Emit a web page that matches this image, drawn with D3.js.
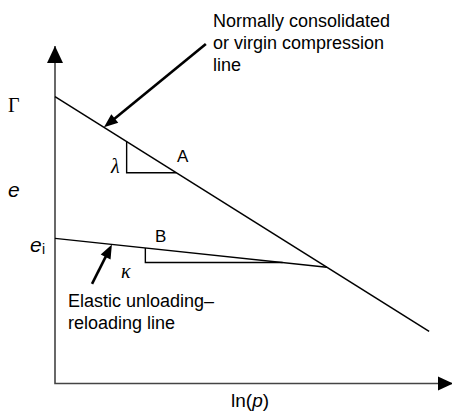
<!DOCTYPE html>
<html>
<head>
<meta charset="utf-8">
<script src="https://cdn.jsdelivr.net/npm/d3@7"></script>
<style>
  html, body { margin: 0; padding: 0; background: #fff; }
  svg { display: block; }
  .sans { font-family: "Liberation Sans", Arial, Helvetica, sans-serif; }
  .serif { font-family: "Liberation Serif", "Times New Roman", serif; }
</style>
</head>
<body>
<svg id="chart" width="452" height="413"></svg>
<script>
// Schematic e – ln(p) diagram (critical state soil mechanics), abstract units.
const xDomain = [0, 10];          // ln(p)
const yDomain = [0, 10];          // e

// Normally consolidated (virgin compression) line: e = Gamma - lambda * ln(p)
const nclParams = { Gamma: 8.5, lambda: 0.74, xEnd: 9.4 };
// Elastic unloading–reloading line: e = ei - kappa * ln(p)
const urlParams = { ei: 4.3, kappa: 0.125 };

// Slope triangles: [x at vertical leg, x at far corner]
const lambdaTriangle = [1.8, 3.05];
const kappaTriangleX = 2.27;
const kappaTriangleBottom = 3.585;

// Annotation arrows: [tail x, tail y] -> tip on the line at x
const nclArrow = { tail: [3.79, 10.06], tipX: 1.23 };
const urlArrow = { tail: [0.93, 2.95], tipX: 1.43 };

const nclLabel = ["Normally consolidated", "or virgin compression", "line"];
const urlLabel = ["Elastic unloading\u2013", "reloading line"];

const svg = d3.select("#chart");
const x = d3.scaleLinear().domain(xDomain).range([55, 453]);
const y = d3.scaleLinear().domain(yDomain).range([383.5, 46]);

const ncl = v => nclParams.Gamma - nclParams.lambda * v;
const url = v => urlParams.ei - urlParams.kappa * v;
const xCross = (nclParams.Gamma - urlParams.ei) / (nclParams.lambda - urlParams.kappa);

const line = d3.line().x(d => x(d[0])).y(d => y(d[1]));

// Axes with arrowheads
const axisColor = "#444";
svg.append("path")
  .attr("d", line([[xDomain[0], yDomain[1]], [xDomain[0], yDomain[0]], [xDomain[1], yDomain[0]]]))
  .attr("fill", "none").attr("stroke", axisColor).attr("stroke-width", 1.6);

function arrowHead(tip, angle, len, half, color) {
  const [tx, ty] = tip;
  const bx = tx - len * Math.cos(angle), by = ty - len * Math.sin(angle);
  const nx = -Math.sin(angle), ny = Math.cos(angle);
  svg.append("path")
    .attr("d", `M${tx},${ty}L${bx + nx * half},${by + ny * half}L${bx - nx * half},${by - ny * half}Z`)
    .attr("fill", color);
}
arrowHead([x(xDomain[0]), y(yDomain[1])], -Math.PI / 2, 17, 8, "#000");
arrowHead([x(xDomain[1]), y(yDomain[0])], 0, 15, 7, "#000");

// Compression lines
svg.append("path")
  .attr("d", line([[0, ncl(0)], [nclParams.xEnd, ncl(nclParams.xEnd)]]))
  .attr("fill", "none").attr("stroke", "#000").attr("stroke-width", 1.5);
svg.append("path")
  .attr("d", line([[0, url(0)], [xCross, url(xCross)]]))
  .attr("fill", "none").attr("stroke", "#000").attr("stroke-width", 1.5);

// Slope triangles
const [l0, l1] = lambdaTriangle;
svg.append("path")
  .attr("d", line([[l0, ncl(l0)], [l0, ncl(l1)], [l1, ncl(l1)]]))
  .attr("fill", "none").attr("stroke", "#000").attr("stroke-width", 1.4);
const kEnd = (urlParams.ei - kappaTriangleBottom) / urlParams.kappa;
svg.append("path")
  .attr("d", line([[kappaTriangleX, url(kappaTriangleX)], [kappaTriangleX, kappaTriangleBottom], [kEnd, kappaTriangleBottom]]))
  .attr("fill", "none").attr("stroke", "#000").attr("stroke-width", 1.4);

// Annotation arrows
function annotArrow(a, f) {
  const tx = x(a.tipX), ty = y(f(a.tipX));
  const sx = x(a.tail[0]), sy = y(a.tail[1]);
  const ang = Math.atan2(ty - sy, tx - sx);
  const len = 14;
  svg.append("line")
    .attr("x1", sx).attr("y1", sy)
    .attr("x2", tx - (len - 2) * Math.cos(ang)).attr("y2", ty - (len - 2) * Math.sin(ang))
    .attr("stroke", "#000").attr("stroke-width", 2.6);
  arrowHead([tx, ty], ang, len, 5.5, "#000");
}
annotArrow(nclArrow, ncl);
annotArrow(urlArrow, url);

// Text
const t = (cls, px, py, size, txt, style) => {
  const el = svg.append("text").attr("class", cls)
    .attr("x", px).attr("y", py).attr("font-size", size).attr("fill", "#000").text(txt);
  if (style) el.attr("font-style", style);
  return el;
};

nclLabel.forEach((s, i) => t("sans", 213, 27 + i * 22, 18, s));
urlLabel.forEach((s, i) => t("sans", 68, 307 + i * 22, 18, s));

t("serif", 8, 112, 20, "\u0393");
t("sans", 8, 197, 21, "e", "italic");
t("sans", 30, 252, 21, "e", "italic");
t("sans", 42, 254, 14, "i");
t("serif", 111, 173, 20, "\u03bb", "italic");
t("serif", 121, 278, 20, "\u03ba", "italic");
t("sans", 177, 162, 17, "A");
t("sans", 155, 242, 17, "B");

const xl = svg.append("text").attr("class", "sans").attr("x", 231).attr("y", 407)
  .attr("font-size", 19).attr("fill", "#000");
xl.append("tspan").text("ln(");
xl.append("tspan").attr("font-style", "italic").text("p");
xl.append("tspan").text(")");
</script>
</body>
</html>
